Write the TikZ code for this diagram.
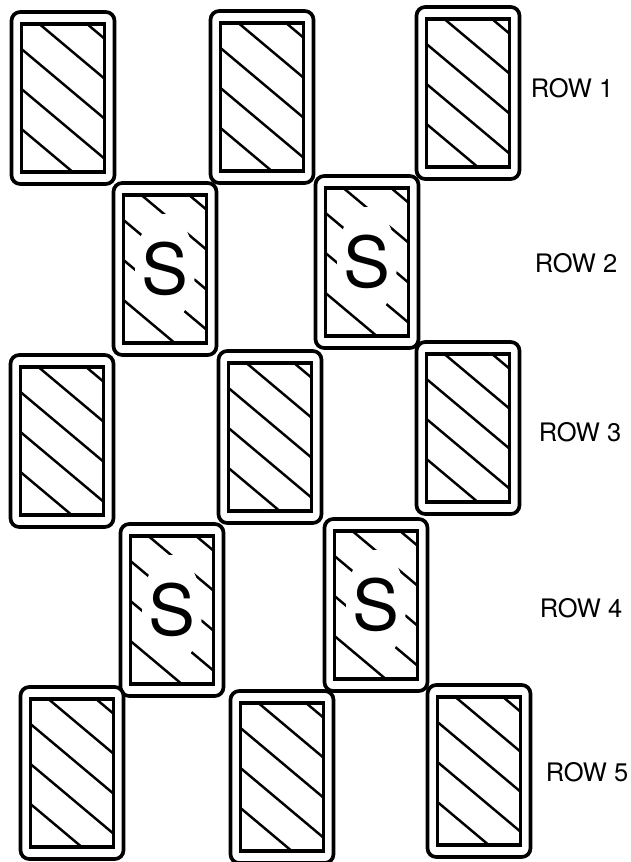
\documentclass[tikz,border=0pt]{standalone}
\usepackage{fontspec}
\setmainfont{TeX Gyre Heros}
\usepackage{tikz}
\usetikzlibrary{calc}

% card face: inner frame with diagonal hatching
\newcommand{\cardface}{%
  \coordinate (nw) at ([shift={(0.2,-0.24)}]path picture bounding box.north west);
  \coordinate (se) at ([shift={(-0.2,0.24)}]path picture bounding box.south east);
  \begin{scope}[sharp corners]
    \clip (nw) rectangle (se);
    \foreach \y in {1.1,0.3,...,-2.9}
      \draw[hatchline] ([yshift=\y cm]nw) -- ++(-40:4);
  \end{scope}
  \draw[innerbox] (nw) rectangle (se);
}

\begin{document}
\begin{tikzpicture}[
  card/.style={draw, line width=2.1pt, rounded corners=5pt, fill=white,
    minimum width=2.06cm, minimum height=3.44cm, inner sep=0pt,
    path picture={\cardface}},
  scard/.style={card, font=\fontsize{40}{44}\selectfont,
    path picture={\cardface
      \fill[white] (path picture bounding box.center) ellipse (0.6 and 1.1);}},
  hatchline/.style={line width=1.4pt},
  innerbox/.style={line width=1.9pt, sharp corners},
  rowlab/.style={font=\fontsize{14.5}{17}\selectfont}
]
\useasboundingbox (0,0) rectangle (12.6,-17.24);

% row 1
\node[card] (c11) at (1.26,-1.96) {};
\node[card] (c12) at (5.24,-1.94) {};
\node[card] (c13) at (9.36,-1.86) {};
% row 2
\node[scard] (s21) at (3.30,-5.38) {S};
\node[scard] (s22) at (7.34,-5.24) {S};
% row 3
\node[card] (c31) at (1.24,-8.82) {};
\node[card] (c32) at (5.40,-8.74) {};
\node[card] (c33) at (9.36,-8.56) {};
% row 4
\node[scard] (s41) at (3.44,-12.20) {S};
\node[scard] (s42) at (7.52,-12.10) {S};
% row 5
\node[card] (c51) at (1.44,-15.46) {};
\node[card] (c52) at (5.64,-15.54) {};
\node[card] (c53) at (9.58,-15.42) {};

\node[rowlab] (row1) at (11.44,-1.76) {ROW 1};
\node[rowlab] (row2) at (11.52,-5.26) {ROW 2};
\node[rowlab] (row3) at (11.60,-8.64) {ROW 3};
\node[rowlab] (row4) at (11.62,-12.16) {ROW 4};
\node[rowlab] (row5) at (11.74,-15.44) {ROW 5};
\end{tikzpicture}
\end{document}
